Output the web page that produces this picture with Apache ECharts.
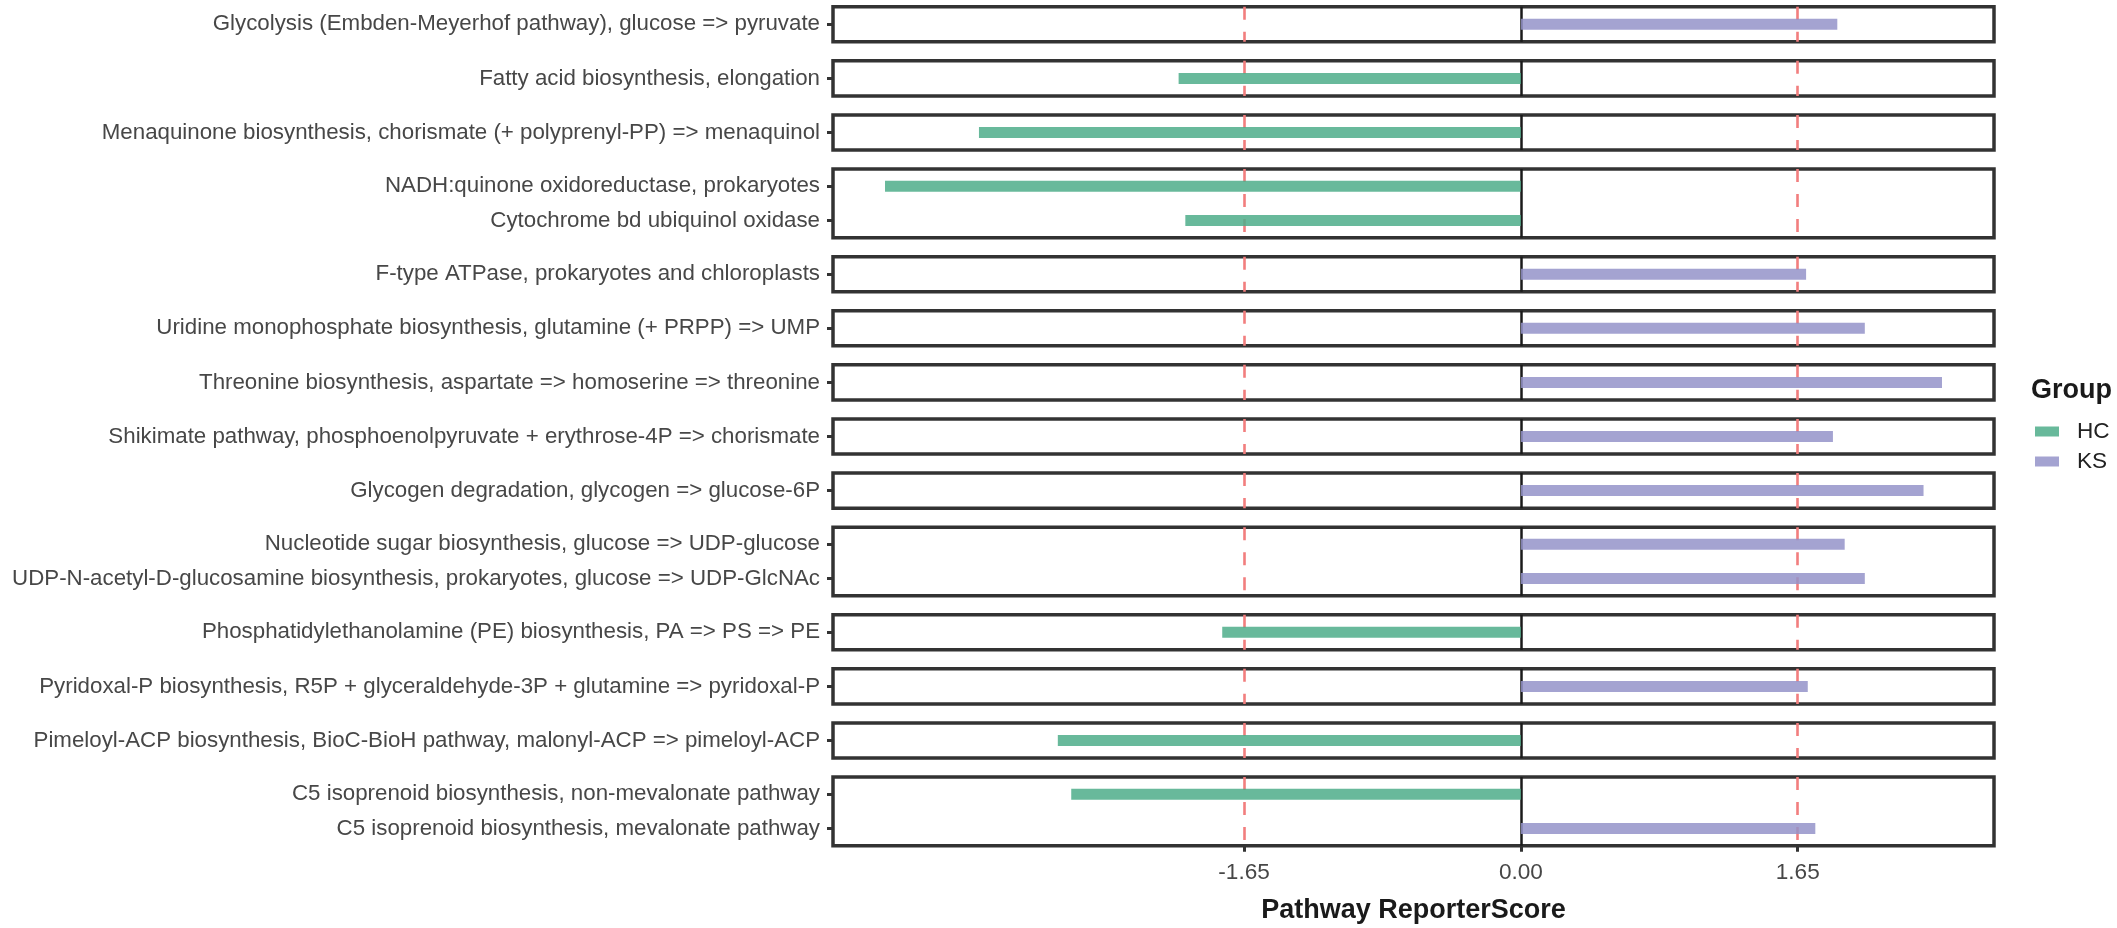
<!DOCTYPE html>
<html><head><meta charset="utf-8">
<script src="https://cdn.jsdelivr.net/npm/echarts@6/dist/echarts.min.js"></script>
<style>html,body{margin:0;padding:0;background:#fff}#chart{width:2117px;height:928px}</style>
</head><body><div id="chart"></div>
<script>
// ---------- data ----------
const pathways = [
  "Glycolysis (Embden-Meyerhof pathway), glucose => pyruvate",
  "Fatty acid biosynthesis, elongation",
  "Menaquinone biosynthesis, chorismate (+ polyprenyl-PP) => menaquinol",
  "NADH:quinone oxidoreductase, prokaryotes",
  "Cytochrome bd ubiquinol oxidase",
  "F-type ATPase, prokaryotes and chloroplasts",
  "Uridine monophosphate biosynthesis, glutamine (+ PRPP) => UMP",
  "Threonine biosynthesis, aspartate => homoserine => threonine",
  "Shikimate pathway, phosphoenolpyruvate + erythrose-4P => chorismate",
  "Glycogen degradation, glycogen => glucose-6P",
  "Nucleotide sugar biosynthesis, glucose => UDP-glucose",
  "UDP-N-acetyl-D-glucosamine biosynthesis, prokaryotes, glucose => UDP-GlcNAc",
  "Phosphatidylethanolamine (PE) biosynthesis, PA => PS => PE",
  "Pyridoxal-P biosynthesis, R5P + glyceraldehyde-3P + glutamine => pyridoxal-P",
  "Pimeloyl-ACP biosynthesis, BioC-BioH pathway, malonyl-ACP => pimeloyl-ACP",
  "C5 isoprenoid biosynthesis, non-mevalonate pathway",
  "C5 isoprenoid biosynthesis, mevalonate pathway"
];
const groups = ["KS","HC","HC","HC","HC","KS","KS","KS","KS","KS","KS","KS","HC","KS","HC","HC","KS"];
const scores = [1.886, -2.04, -3.23, -3.79, -2.00, 1.70, 2.05, 2.51, 1.86, 2.40, 1.93, 2.05, -1.78, 1.71, -2.76, -2.68, 1.755];
const panels = [1, 2, 3, 4, 4, 5, 6, 7, 8, 9, 10, 10, 11, 12, 13, 14, 14];
const groupNames = ["HC", "KS"];
const tickValues = [-1.65, 0, 1.65];
const thresholds = [-1.65, 1.65];
const xLimits = [-4.1, 2.82];
const xTitle = "Pathway ReporterScore";
const legendTitle = "Group";

// ---------- styling / layout ----------
const FONT = "Liberation Sans, Arial, Helvetica, sans-serif";
const Y_TXT = 22.3, X_TXT = 22.6;
const barColors = { HC: "rgba(77,173,137,0.85)", KS: "rgba(148,147,201,0.85)" };
const PANEL_TOP = 6.75, BASE_H = 35.1, ROW_STEP = 33.5, GAP = 19;
const GRID_LEFT = 833, GRID_W = 1161;

const grids = [], xAxes = [], yAxes = [], series = [];
const panelIds = [...new Set(panels)];
let y = PANEL_TOP;
panelIds.forEach((pid, i) => {
  const idx = panels.map((p, k) => (p === pid ? k : -1)).filter(k => k >= 0);
  const names = idx.map(k => pathways[k]);
  const h = BASE_H + ROW_STEP * (idx.length - 1);
  const isLast = i === panelIds.length - 1;
  grids.push({
    left: GRID_LEFT, width: GRID_W, top: y, height: h,
    show: true, borderColor: "#333", borderWidth: 3.5,
    backgroundColor: "rgba(0,0,0,0)", containLabel: false, outerBoundsMode: "none"
  });
  xAxes.push({
    gridIndex: i, type: "value", min: xLimits[0], max: xLimits[1],
    show: isLast, position: "bottom",
    axisLine: { show: false, onZero: false },
    splitLine: { show: false },
    axisTick: { show: isLast, customValues: tickValues, length: 6, lineStyle: { color: "#333", width: 3 } },
    axisLabel: {
      show: isLast, customValues: tickValues, formatter: v => Number(v).toFixed(2),
      fontSize: X_TXT, color: "#474747", margin: 16, fontFamily: FONT
    },
    name: isLast ? xTitle : "",
    nameLocation: "middle", nameGap: 51,
    nameTextStyle: { fontSize: 27, fontWeight: "bold", color: "#1a1a1a", fontFamily: FONT }
  });
  yAxes.push({
    gridIndex: i, type: "category", data: names, inverse: true, position: "left",
    axisLine: { show: false, onZero: false },
    splitLine: { show: false },
    axisTick: { show: true, alignWithLabel: true, length: 6, lineStyle: { color: "#333", width: 3 } },
    axisLabel: { interval: 0, fontSize: Y_TXT, color: "#474747", margin: 13, fontFamily: FONT }
  });
  // reference lines
  series.push({
    type: "line", name: "ref" + i, xAxisIndex: i, yAxisIndex: i,
    data: names.map(() => "-"), z: 1, silent: true, animation: false,
    markLine: {
      silent: true, symbol: "none", animation: false, z: 1,
      label: { show: false },
      data: thresholds.map(t => ({ xAxis: t, lineStyle: { color: "#F27E7E", type: [13, 12], width: 2.6 } }))
        .concat([{ xAxis: 0, lineStyle: { color: "#1a1a1a", type: "solid", width: 2.5 } }])
    }
  });
  groupNames.forEach(g => {
    series.push({
      type: "bar", name: g, xAxisIndex: i, yAxisIndex: i,
      data: idx.map(k => (groups[k] === g ? scores[k] : "-")),
      barWidth: 11, barGap: "-100%", z: 3, animation: false,
      itemStyle: { color: barColors[g] }
    });
  });
  y += h + GAP;
});

const chart = echarts.init(document.getElementById("chart"), null, { renderer: "canvas" });
chart.setOption({
  backgroundColor: "#fff",
  animation: false,
  title: {
    text: legendTitle, left: 2031, top: 377, padding: 0,
    textStyle: { fontSize: 27, fontWeight: "bold", color: "#1a1a1a", fontFamily: FONT }
  },
  legend: {
    data: groupNames, orient: "vertical", left: 2035, top: 420, padding: 0,
    itemWidth: 24, itemHeight: 10, itemGap: 7, icon: "rect",
    textStyle: { fontSize: X_TXT, color: "#222", fontFamily: FONT, padding: [0, 0, 0, 13] }
  },
  grid: grids,
  xAxis: xAxes,
  yAxis: yAxes,
  series: series
});
</script>
</body></html>
